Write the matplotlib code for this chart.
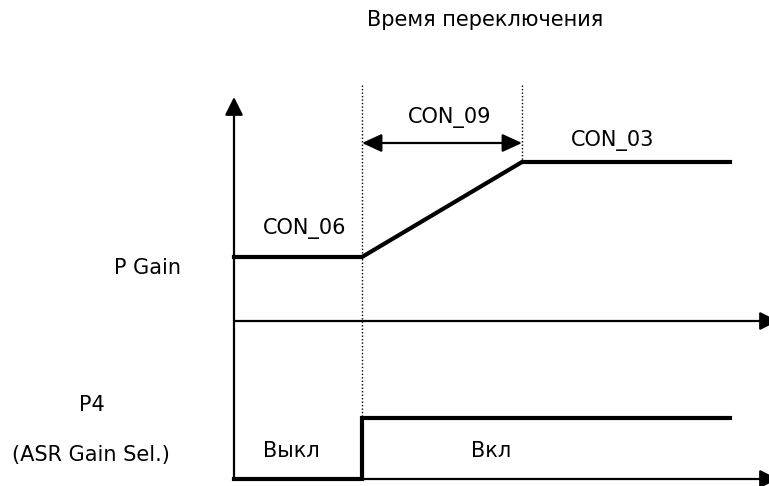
import matplotlib.pyplot as plt

# diagram geometry in pixel units (x to the right, y downwards)
axis_x = 234
axis_top = 97
gain_axis_y = 321
sel_axis_y = 479
axis_right = 778

t_switch = [362, 522]          # start / end of the switching time
gain_x = [234, 362, 522, 730]
gain_y = [257, 257, 162, 162]  # CON_06 -> CON_09 ramp -> CON_03
sel_x = [234, 362, 362, 730]
sel_y = [479, 479, 418, 418]   # P4 off -> on
dot_top = 85
dot_bottom = [418, 162]
arrow_y = 143

labels = [
    ('Время переключения', 367, 20, 'left'),
    ('CON_09', 450, 117, 'center'),
    ('CON_03', 613, 140, 'center'),
    ('CON_06', 263, 228, 'left'),
    ('P Gain', 147, 268, 'center'),
    ('P4', 92, 405, 'center'),
    ('(ASR Gain Sel.)', 12, 455, 'left'),
    ('Выкл', 263, 451, 'left'),
    ('Вкл', 491, 451, 'center'),
]

fig = plt.figure(figsize=(7.69, 4.86), dpi=100)
ax = fig.add_axes([0, 0, 1, 1])
ax.set_xlim(0, 769)
ax.set_ylim(486, 0)
ax.axis('off')

arrow = dict(arrowstyle='-|>,head_length=1.1,head_width=0.55', color='black', lw=1.6,
             shrinkA=0, shrinkB=0)
# axes
ax.annotate('', xy=(axis_x, axis_top), xytext=(axis_x, sel_axis_y), arrowprops=arrow)
ax.annotate('', xy=(axis_right, gain_axis_y), xytext=(axis_x, gain_axis_y), arrowprops=arrow,
            annotation_clip=False)
ax.annotate('', xy=(axis_right, sel_axis_y), xytext=(axis_x, sel_axis_y), arrowprops=arrow,
            annotation_clip=False)

# dotted guides
for xv, yb in zip(t_switch, dot_bottom):
    ax.plot([xv, xv], [dot_top, yb], color='black', lw=1.0, linestyle=(0, (1, 1.5)))

# switching time arrow
ax.annotate('', xy=(t_switch[0], arrow_y), xytext=(t_switch[1], arrow_y),
            arrowprops=dict(arrowstyle='<|-|>,head_length=1.2,head_width=0.55',
                            color='black', lw=1.6, shrinkA=0, shrinkB=0))

# traces
ax.plot(gain_x, gain_y, color='black', lw=3, solid_joinstyle='miter')
ax.plot(sel_x, sel_y, color='black', lw=3, solid_joinstyle='miter')

for txt, x, y, ha in labels:
    ax.text(x, y, txt, ha=ha, va='center', fontsize=15, family='DejaVu Sans')

fig.savefig('out.png', dpi=100)
